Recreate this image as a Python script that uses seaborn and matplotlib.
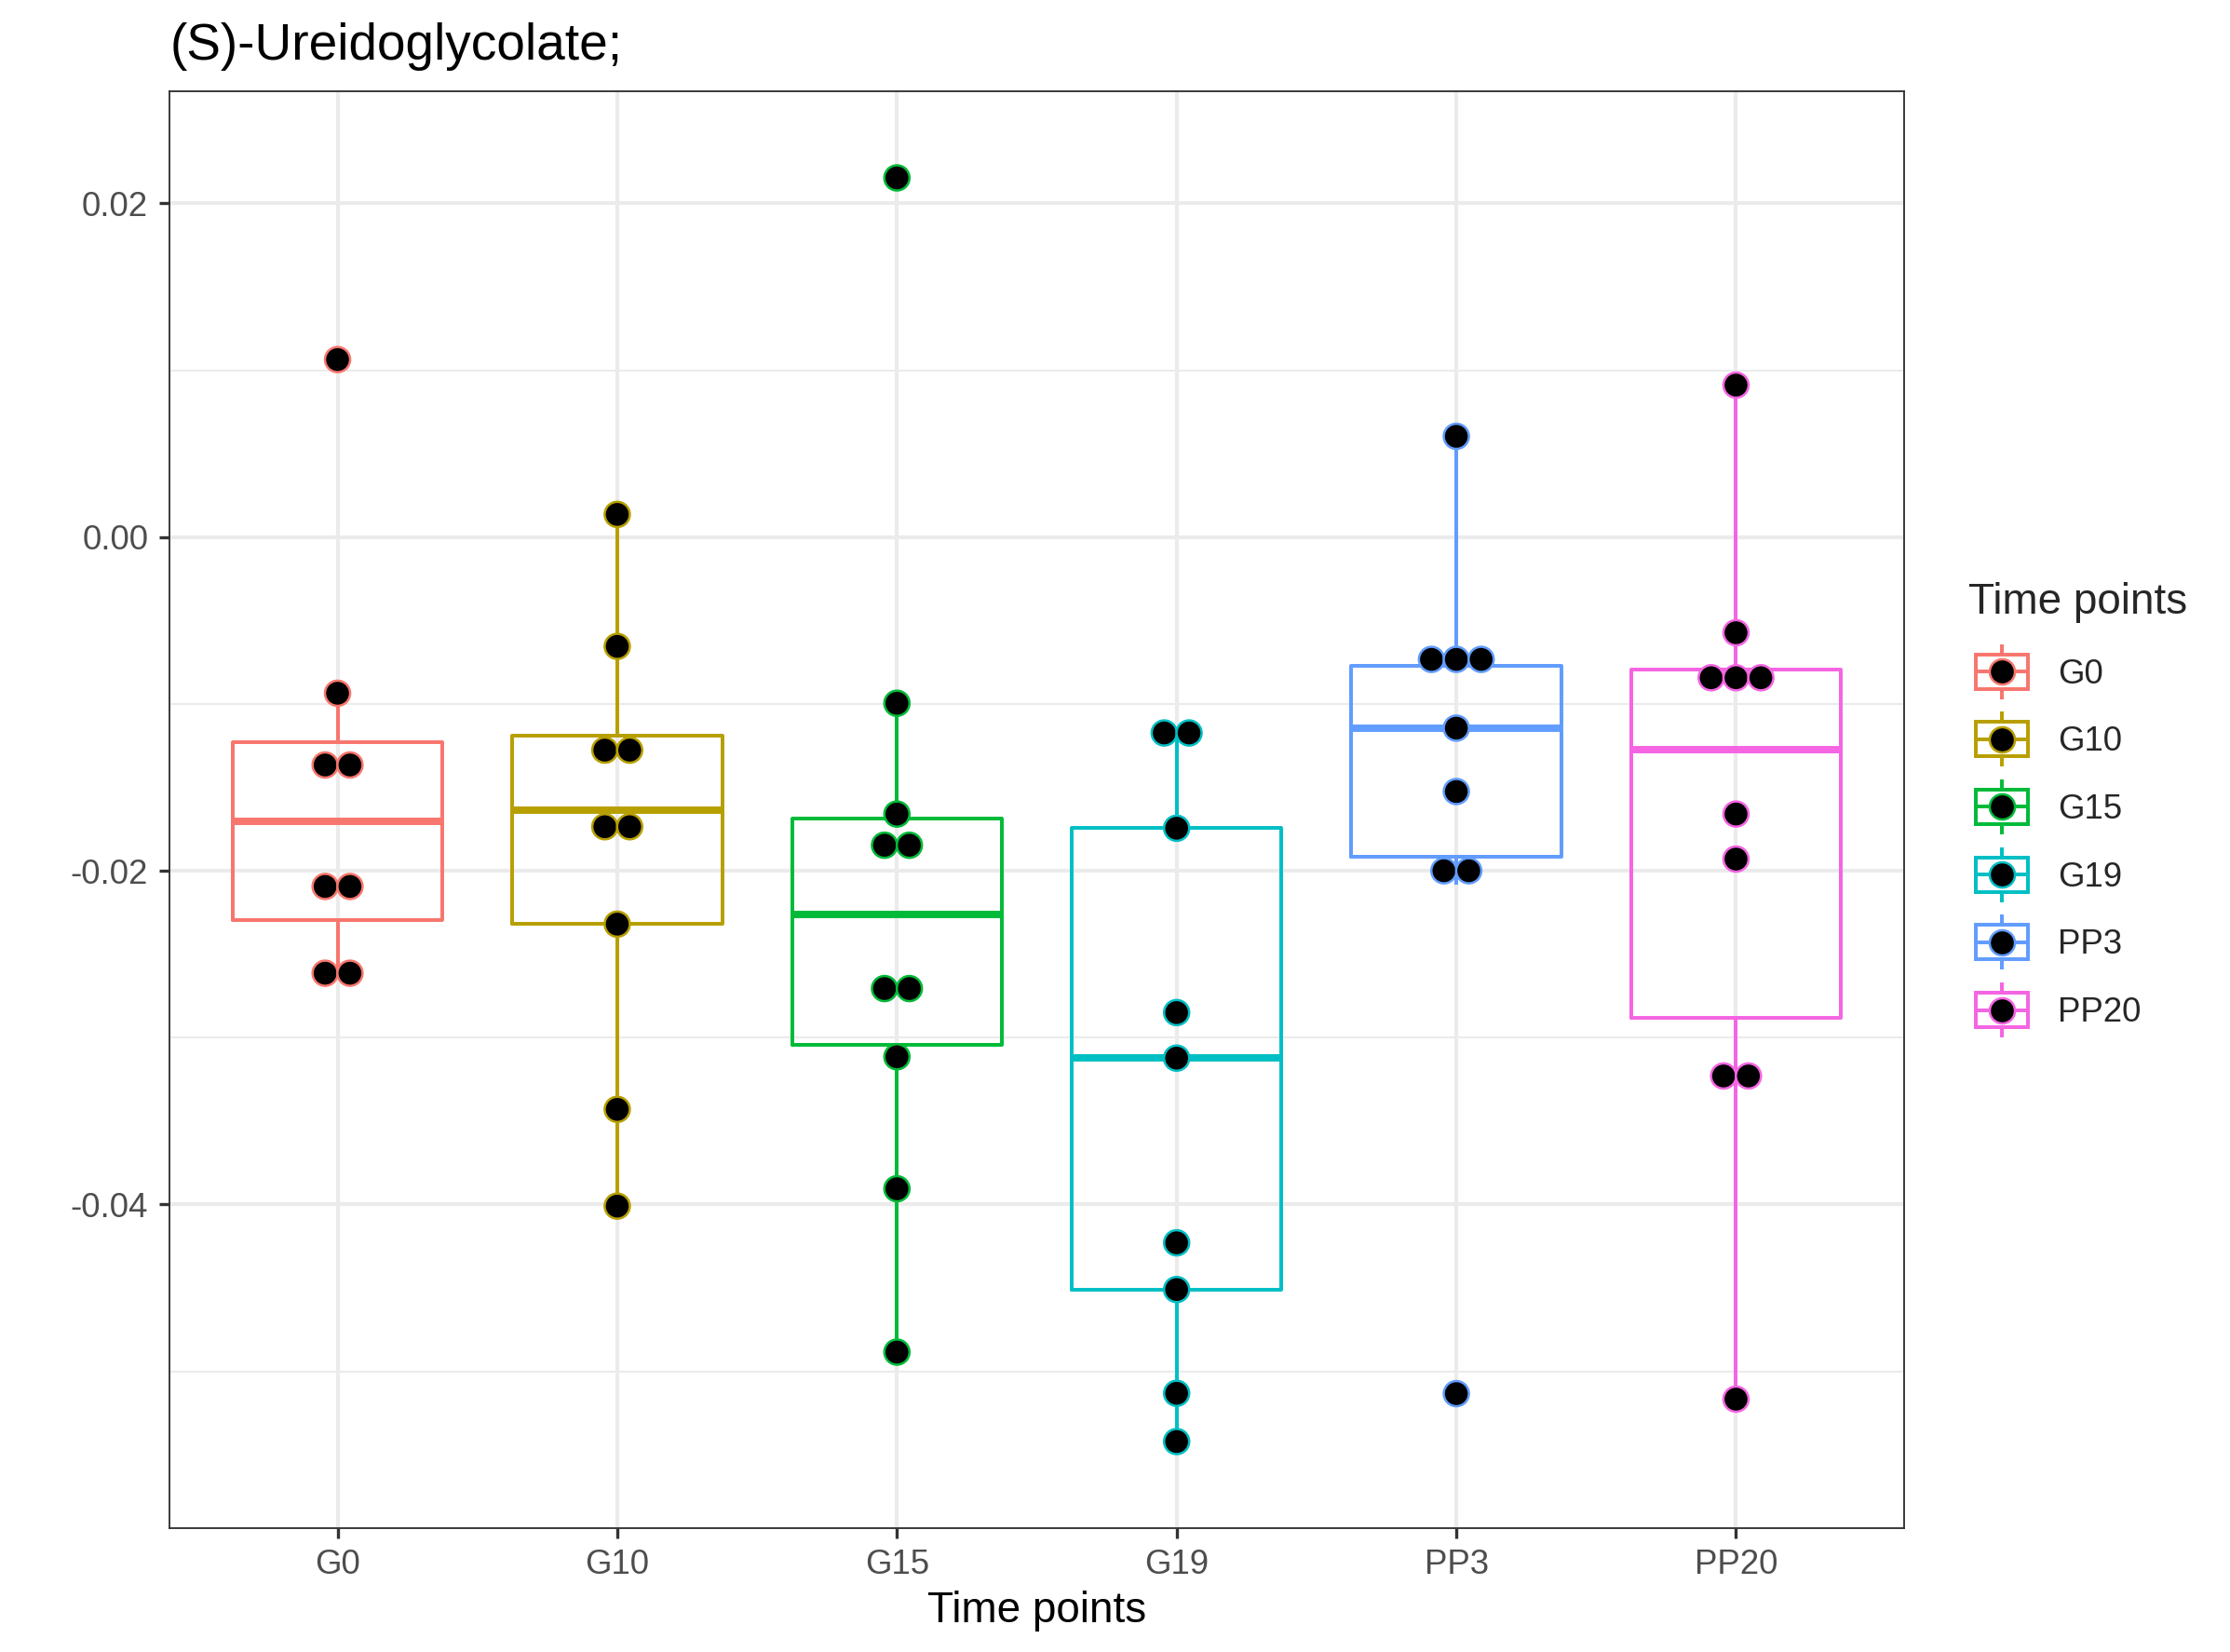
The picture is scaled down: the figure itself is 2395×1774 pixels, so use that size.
import numpy as np
import pandas as pd
import matplotlib
matplotlib.use("Agg")
import matplotlib.pyplot as plt
import seaborn as sns
from matplotlib.legend_handler import HandlerBase
from matplotlib.lines import Line2D
from matplotlib.patches import Rectangle
from matplotlib.ticker import FixedLocator, MultipleLocator, FormatStrFormatter

# ---------------- data ----------------
categories = ["G0", "G10", "G15", "G19", "PP3", "PP20"]
colors = ["#F8766D", "#B79F00", "#00BA38", "#00BFC4", "#619CFF", "#F564E3"]

g0 = [0.01064, -0.00936, -0.01328, -0.01404, -0.0200, -0.02188, -0.02614, -0.02614]
g10 = [0.00136, -0.00655, -0.0119, -0.01364, -0.01639, -0.01833, -0.0232, -0.0343, -0.0401]
g15 = [0.02153, -0.00996, -0.0166, -0.01764, -0.0193, -0.0259, -0.02822, -0.03115,
       -0.03906, -0.04885]
g19 = [-0.01174, -0.01174, -0.01745, -0.0285, -0.03123, -0.0423, -0.0451, -0.05132, -0.05421]
pp3 = [0.00604, -0.00636, -0.00773, -0.0083, -0.01145, -0.01525, -0.01918, -0.02082, -0.05134]
pp20 = [0.00911, -0.00573, -0.00794, -0.00794, -0.00892, -0.0166, -0.0193, -0.03199,
        -0.03261, -0.05167]

title = "(S)-Ureidoglycolate;"
x_title = "Time points"
y_ticks = [-0.04, -0.02, 0.00, 0.02]

groups = [g0, g10, g15, g19, pp3, pp20]

# ---------------- style ----------------
sns.set_theme(style="white")
plt.rcParams["font.family"] = ["Liberation Sans", "DejaVu Sans"]
plt.rcParams["axes.unicode_minus"] = False

W, H, DPI = 2395, 1774, 300
fig = plt.figure(figsize=(W / DPI, H / DPI), dpi=DPI)
left, right, top, bottom = 182.3, 2044.7, 98.3, 1640.7
ax = fig.add_axes([left / W, 1 - bottom / H, (right - left) / W, (bottom - top) / H])

df = pd.DataFrame({
    "tp": np.concatenate([[c] * len(g) for c, g in zip(categories, groups)]),
    "val": np.concatenate(groups),
})

box_lw = 0.95
sns.boxplot(data=df, x="tp", y="val", hue="tp", order=categories, hue_order=categories,
            palette=colors, fill=False, width=0.75, showcaps=False, showfliers=False,
            linewidth=box_lw, medianprops={"linewidth": 1.9}, legend=False, ax=ax)

# dot-density binning (as in a centred dot plot)
allv = np.concatenate(groups)
binw = (allv.max() - allv.min()) / 30


def density_bins(values, bw):
    v = np.sort(np.asarray(values))
    bins, cur, end = [], [], -np.inf
    for x in v:
        if x >= end:
            if cur:
                bins.append(cur)
            cur, end = [], x + bw
        cur.append(x)
    if cur:
        bins.append(cur)
    return [((min(b) + max(b)) / 2, len(b)) for b in bins]


spacing = 0.0888
xs, ys, ecs = [], [], []
for i, vals in enumerate(groups):
    for center, n in density_bins(vals, binw):
        for k in range(n):
            xs.append(i + (k - (n - 1) / 2) * spacing)
            ys.append(center)
            ecs.append(colors[i])

sns.scatterplot(x=xs, y=ys, color="black", edgecolor=ecs, s=42, linewidth=0.6,
                ax=ax, zorder=3, legend=False)

# limits (dot extents + 5% expansion)
lo, hi = allv.min() - binw / 2, allv.max() + binw / 2
pad = (hi - lo) * 0.05
ax.set_ylim(lo - pad, hi + pad)
ax.set_xlim(-0.6, len(categories) - 0.4)

ax.yaxis.set_major_locator(FixedLocator(y_ticks))
ax.yaxis.set_major_formatter(FormatStrFormatter("%.2f"))
ax.yaxis.set_minor_locator(MultipleLocator(0.01))
ax.grid(which="major", color="#EBEBEB", linewidth=1.0)
ax.grid(which="minor", axis="y", color="#EBEBEB", linewidth=0.5)
ax.set_axisbelow(True)

for s in ax.spines.values():
    s.set_color("#333333")
    s.set_linewidth(0.45)
    s.set_visible(True)

ax.tick_params(which="major", length=2.75, width=0.8, color="#333333",
               labelsize=8.8, labelcolor="#4D4D4D", bottom=True, left=True)
ax.tick_params(axis="x", pad=2.6)
ax.tick_params(axis="y", pad=2.8)
ax.tick_params(which="minor", length=0)

ax.set_xlabel(x_title, fontsize=11, color="black", labelpad=2.4)
ax.set_ylabel("")

fig.text(left / W, 1 - 64 / H, title, fontsize=13.2, ha="left", va="baseline", color="black")


# ---------------- legend ----------------
class BoxDotHandler(HandlerBase):
    def create_artists(self, legend, orig_handle, xdescent, ydescent, width, height,
                       fontsize, trans):
        color = orig_handle.get_color()
        px = 72 / DPI
        cx = -xdescent + width / 2
        cy = -ydescent + height / 2
        rw, rh, wh = 56 * px, 37 * px, 59 * px
        rect = Rectangle((cx - rw / 2, cy - rh / 2), rw, rh, fill=False, edgecolor=color,
                         linewidth=box_lw, transform=trans)
        w1 = Line2D([cx, cx], [cy + rh / 2, cy + wh / 2], color=color, lw=box_lw,
                    solid_capstyle="butt", transform=trans)
        w2 = Line2D([cx, cx], [cy - rh / 2, cy - wh / 2], color=color, lw=box_lw,
                    solid_capstyle="butt", transform=trans)
        med = Line2D([cx - rw / 2, cx + rw / 2], [cy, cy], color=color, lw=box_lw,
                     transform=trans)
        dot = Line2D([cx], [cy], marker="o", markersize=6.5, markerfacecolor="black",
                     markeredgecolor=color, markeredgewidth=0.6, linestyle="none",
                     transform=trans)
        return [rect, w1, w2, med, dot]


proxies = [Line2D([], [], color=c) for c in colors]
leg = ax.legend(handles=proxies, labels=categories, title="Time points",
                handler_map={Line2D: BoxDotHandler()}, loc="upper left",
                bbox_to_anchor=(2114 / W, 1 - 625 / H), bbox_transform=fig.transFigure,
                frameon=False, borderpad=0, borderaxespad=0, fontsize=8.8,
                title_fontsize=11, handlelength=1.96, handleheight=0.98,
                labelspacing=0.98, handletextpad=0.654, alignment="left")

fig.savefig("out.png", dpi=DPI)
